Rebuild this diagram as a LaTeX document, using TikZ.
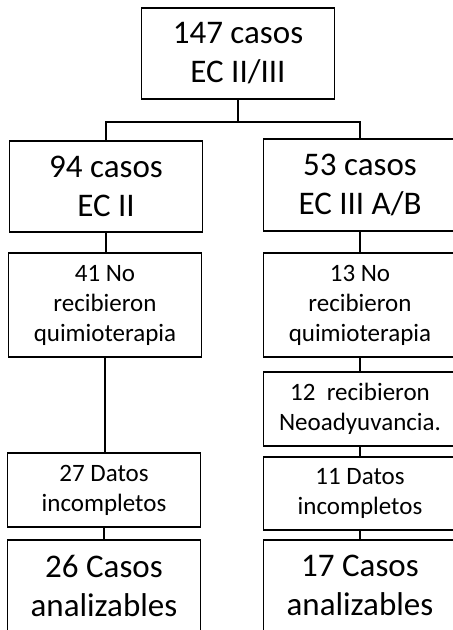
\documentclass[tikz,border=0pt]{standalone}
\usepackage{fontspec}
\setmainfont{Carlito}
\usetikzlibrary{positioning,calc}

\begin{document}
\begin{tikzpicture}[x=1pt,y=-1pt,line width=1.5pt,
    velik/.style={draw,align=center,inner sep=0pt,minimum width=193pt,minimum height=91pt,font=\fontsize{33}{39}\selectfont},
    mali/.style={draw,align=center,inner sep=0pt,minimum width=193pt,font=\fontsize{25}{30}\selectfont}]
    \useasboundingbox (0,0) rectangle (453,630);
    \fill[white] (0,0) rectangle (453,630);
    \clip (0,0) rectangle (453,630);

    % vsi primeri
    \node[velik] (vsi) at (238,53.5) {147 casos\\EC II/III};

    % leva veja
    \node[velik] (ec2) at (106,186.5) {94 casos\\EC II};
    \node[mali,minimum height=104pt] (no41) at (105,305) {41 No\\recibieron\\quimioterapia};
    \node[mali,minimum height=74pt] (dat27) at (104,490) {27 Datos\\incompletos};
    \node[velik] (an26) at (104,585.5) {26 Casos\\analizables};

    % desna veja
    \node[velik,minimum height=92pt] (ec3) at (360,185) {53 casos\\EC III A/B};
    \node[mali,minimum height=104pt] (no13) at (360,305) {13 No\\recibieron\\quimioterapia};
    \node[mali,minimum height=74pt] (neo12) at (360,409) {12\ \ recibieron\\Neoadyuvancia.};
    \node[mali,minimum height=73pt] (dat11) at (360,493.5) {11 Datos\\incompletos};
    \node[velik] (an17) at (360,585.5) {17 Casos\\analizables};

    % povezave
    \coordinate (razcep) at (238,122);
    \draw (vsi.south) -- (razcep);
    \draw (ec2.north) |- (razcep) -| (ec3.north);
    \draw (ec2.south) -- (ec2.south |- no41.north);
    \draw (no41.south) -- (no41.south |- dat27.north);
    \draw (dat27.south) -- (dat27.south |- an26.north);
    \draw (ec3.south) -- (no13.north);
    \draw (no13.south) -- (neo12.north);
    \draw (neo12.south) -- (dat11.north);
    \draw (dat11.south) -- (an17.north);
\end{tikzpicture}
\end{document}
